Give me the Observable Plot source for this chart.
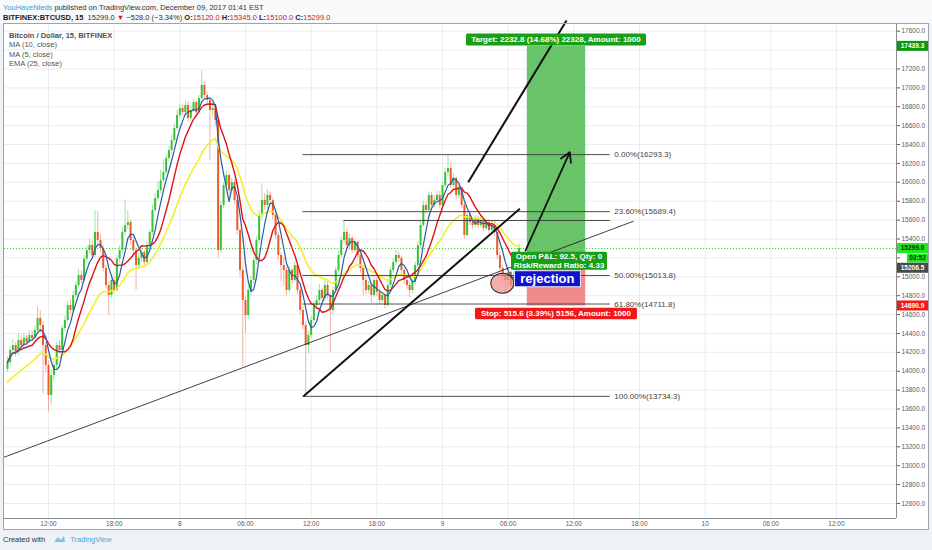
<!DOCTYPE html>
<html><head><meta charset="utf-8">
<script src="https://cdn.jsdelivr.net/npm/d3@7"></script>
<script src="https://cdn.jsdelivr.net/npm/@observablehq/plot@0.6"></script>
<style>
body{margin:0;width:932px;height:550px;position:relative;overflow:hidden;background:#eef1f5;font-family:"Liberation Sans",Arial,sans-serif;}
#hdr{position:absolute;left:0;top:0;width:932px;height:23px;background:#f8f9fa;}
.hl{position:absolute;left:3px;font-size:7.5px;line-height:9px;color:#333;white-space:nowrap;}
.r{color:#c2262b}
#frame{position:absolute;left:3px;top:23px;width:926px;height:507px;box-sizing:border-box;background:#fff;}
#border{position:absolute;left:3px;top:23px;width:926px;height:507px;box-sizing:border-box;border:1px solid #a3a3a3;pointer-events:none;}
#chart{position:absolute;left:0;top:23px;}
.lg{position:absolute;left:9px;font-size:7.5px;line-height:9px;color:#555;white-space:nowrap;}
#foot{position:absolute;left:3px;top:535px;font-size:7.5px;line-height:9px;color:#333;white-space:nowrap;}
#foot .tv{color:#4aa3df}
</style></head>
<body>
<div id="hdr">
  <div class="hl" id="h1" style="top:2.5px"></div>
  <div class="hl" id="h2" style="top:12.5px"></div>
</div>
<div id="frame"></div>
<div id="chart"></div>
<div id="legend"></div>
<div id="border"></div>
<div id="foot">Created with <svg width="13" height="8" viewBox="0 0 13 8" style="vertical-align:-1px;margin:0 2px 0 6px"><path d="M1 7 L5 2 L8 5 L11 1 L12 7 Z" fill="#7cc3ec"/></svg> <span class="tv">TradingView</span></div>
<script>
// ---------- data ----------
const startTime = "2017-12-07T08:15:00Z";   // first 15-min bar
const barMinutes = 15;
const firstOpen = 14020;
const closes = [
14092,14220,14272,14198,14325,14272,14347,14304,14378,14347,
14431,14558,14484,14272,14061,13743,13955,14061,14272,14220,
14452,14537,14696,14643,14802,14908,15014,14961,15187,15278,
15331,15225,15469,15384,15299,15088,14908,14802,14961,14855,
15187,15278,15469,15543,15575,15384,15278,15119,15194,15257,
15151,15331,15469,15702,15829,15913,16019,16104,16252,16337,
16443,16570,16708,16781,16739,16813,16676,16760,16845,16739,
16888,17025,16919,16866,16760,16781,16655,15278,15755,15966,
16072,15913,15998,15808,15490,15067,14749,14590,14855,14961,
15172,15384,15649,15808,15755,15861,15808,15649,15437,15225,
15119,15067,14855,15067,14961,15119,14855,14643,14484,14272,
14378,14537,14696,14749,14855,14770,14908,14802,14643,14855,
15067,15225,15384,15469,15331,15405,15278,15363,15225,15088,
14961,14855,14908,14802,14961,14834,14749,14802,14696,14908,
15067,15151,15225,15194,15067,14961,14908,14855,14940,15119,
15331,15543,15755,15702,15861,15755,15808,15861,15755,15966,
16104,16146,15966,16041,15861,15935,15755,15437,15649,15575,
15543,15617,15543,15596,15511,15575,15490,15543,15469,15225,
15088,15014,14961,15046,14908,15014,15120,15299];
const highs = [
14150,14260,14330,14300,14400,14380,14400,14380,14430,14420,
14480,14680,14640,14520,14300,14100,14010,14120,14300,14330,
14480,14580,14740,14760,14850,14950,15080,15060,15230,15330,
15400,15380,15700,15690,15450,15330,15120,14950,15010,15000,
15230,15330,15520,15810,15700,15600,15420,15300,15250,15300,
15280,15370,15500,15760,15880,16000,16130,16240,16300,16380,
16500,16620,16760,16830,16820,16860,16850,16800,16880,16870,
16920,17180,17060,16960,16900,16850,16820,16690,15800,16000,
16120,16100,16040,16030,15840,15520,15100,14780,14900,15000,
15210,15430,15700,15980,15880,15920,15900,15830,15680,15460,
15260,15200,15100,15110,15090,15160,15140,14890,14680,14520,
14420,14580,14740,14800,14920,14880,14960,14950,14830,14890,
15100,15270,15430,15596,15500,15450,15430,15400,15380,15260,
15120,14990,14950,14930,15000,14990,14870,14840,14820,14950,
15100,15190,15280,15260,15220,15090,15000,14950,14980,15160,
15370,15590,15800,15790,15900,15890,15860,15910,15900,16000,
16150,16293.3,16200,16090,16060,15980,15960,15780,15690,15680,
15620,15650,15640,15630,15620,15610,15600,15580,15580,15490,
15260,15120,15050,15080,15070,15050,15160,15345];
const lows = [
13990,14060,14190,14150,14170,14230,14250,14270,14290,14310,
14330,14400,14400,13760,13980,13570,13640,13900,14020,14180,
14200,14420,14510,14600,14620,14780,14880,14920,14940,15150,
15240,15180,15200,15330,15260,15050,14870,14590,14770,14820,
14840,15150,15250,15440,15500,15340,15230,14860,15080,15150,
15100,15120,15300,15440,15680,15800,15880,16000,16080,16220,
16300,16420,16540,16680,16700,16700,16640,16650,16740,16700,
16720,16870,16880,16820,16230,16700,16600,15200,15250,15720,
15920,15870,15880,15760,15440,15000,14050,14400,14550,14800,
14920,15130,15350,15600,15700,15720,15760,15600,15400,15180,
14950,14900,14800,14830,14920,14940,14810,14600,14440,13734.3,
14180,14340,14500,14650,14700,14720,14740,14760,14200,14600,
14830,15040,15200,15350,15290,15300,15240,15250,15190,15040,
14800,14810,14820,14720,14780,14790,14700,14720,14660,14680,
14880,15030,15120,15150,15020,14920,14860,14780,14820,14900,
15090,15300,15520,15660,15680,15720,15720,15780,15720,15740,
15940,16060,15930,15940,15820,15830,15720,15400,15420,15540,
15500,15520,15510,15520,15480,15490,15460,15470,15430,15180,
15040,14960,14820,14900,14860,14870,14980,15100];
const emaStart = 13870;      // EMA(25) value at the left edge

const yTicks = [12600,12800,13000,13200,13400,13600,13800,14000,14200,14400,14600,14800,15000,15200,15400,15600,15800,16000,16200,16400,16600,16800,17000,17200,17400,17600];
const hiddenTickLabels = [15200,17400];   // covered by price tags in the reference
const xTicks = ["2017-12-07T12:00Z","2017-12-07T18:00Z","2017-12-08T00:00Z","2017-12-08T06:00Z","2017-12-08T12:00Z","2017-12-08T18:00Z","2017-12-09T00:00Z","2017-12-09T06:00Z","2017-12-09T12:00Z","2017-12-09T18:00Z","2017-12-10T00:00Z","2017-12-10T06:00Z","2017-12-10T12:00Z"];

const fibPrices = [16293.3, 15689.4, 15013.8, 14711.8, 13734.3];
const fibLabels = ["0.00%(16293.3)","23.60%(15689.4)","50.00%(15013.8)","61.80%(14711.8)","100.00%(13734.3)"];
const fibStart = "2017-12-08T11:15Z", fibEnd = "2017-12-09T15:20Z";
const extraLevel = {p: 15596, t1: "2017-12-08T15:00Z", t2: "2017-12-09T15:20Z"};

const lastPrice = 15299.0;
const entry = 15206.5, target = 17439.3, stop = 14690.9;
const posStart = "2017-12-09T07:45Z", posEnd = "2017-12-09T13:05Z", posMid = "2017-12-09T10:25Z";

const trendLines = [
  {t1:"2017-12-07T07:53Z", p1:13087, t2:"2017-12-09T17:27Z", p2:15588, w:0.8},
  {t1:"2017-12-08T11:18Z", p1:13734.3, t2:"2017-12-09T07:04Z", p2:15720, w:2},
  {t1:"2017-12-09T02:21Z", p1:16001, t2:"2017-12-09T11:20Z", p2:17713, w:2}
];
const arrowLine = [{t1:"2017-12-09T07:35Z", p1:15278, t2:"2017-12-09T11:38Z", p2:16319}];
const circleMark = {t:"2017-12-09T05:31Z", p:14926};
const rejection = {t:"2017-12-09T09:38Z", p:14974, text:"rejection"};

const headerLine1 = ["YouHaveNieds", " published on TradingView.com, December 09, 2017 01:41 EST"];
const ohlc = {O:15120.0, H:15345.0, L:15100.0, C:15299.0};
const change = [-528.0, -3.34];
const legendLines = ["Bitcoin / Dollar, 15, BITFINEX","MA (10, close)","MA (5, close)","EMA (25, close)"];

// ---------- header / legend ----------
document.getElementById("h1").innerHTML = `<span style="color:#3d9be0">${headerLine1[0]}</span>${headerLine1[1]}`;
document.getElementById("h2").innerHTML =
  `<b style="color:#222">BITFINEX:BTCUSD, 15</b>&nbsp; ${lastPrice.toFixed(1)} <span class="r">&#9660;</span> \u2212${Math.abs(change[0]).toFixed(1)} (\u2212${Math.abs(change[1]).toFixed(2)}%) ` +
  Object.entries(ohlc).map(([k,v]) => `<b style="color:#222">${k}:</b><span class="r">${v.toFixed(1)}</span>`).join(" ");
const lg = document.getElementById("legend");
legendLines.forEach((s,i) => {
  const d = document.createElement("div");
  d.className = "lg"; d.textContent = s;
  d.style.top = (30.5 + i*9.5) + "px";
  if (i === 0) { d.style.fontWeight = "bold"; d.style.color = "#505050"; }
  lg.appendChild(d);
});

// ---------- build tables ----------
const t0 = new Date(startTime).getTime();
const candles = closes.map((c,i) => ({t: new Date(t0 + i*barMinutes*60000), o: i ? closes[i-1] : firstOpen, h: highs[i], l: lows[i], c}));
const alpha = 2/(25+1);
let e = emaStart;
const ema = candles.map(d => { e = alpha*d.c + (1-alpha)*e; return {t: d.t, v: e}; });
const fib = fibPrices.map((p,i) => ({p, label: fibLabels[i], t1: new Date(fibStart), t2: new Date(fibEnd)}));
const D = s => new Date(s);

const upC = "#35c335", dnC = "#ee5b2b", upW = "#8ad98a", dnW = "#ef9d93";

// custom marks (use Plot's scales)
function boxes(items){
  return (index, scales, values, dims) => {
    const g = d3.create("svg:g");
    const right = dims.width - dims.marginRight;
    for (const b of items){
      const cx = b.axis ? right + 1 + b.w/2 + (b.ox||0) : scales.x(D(b.t)) + (b.dx||0);
      const cy = scales.y(b.p) + (b.dy||0);
      g.append("rect").attr("x", cx-b.w/2).attr("y", cy-b.h/2).attr("width", b.w).attr("height", b.h)
        .attr("rx", b.rx ?? 1.5).attr("fill", b.fill).attr("stroke", b.stroke || "none").attr("stroke-width", b.sw || 0);
      const lines = b.text.split("\n");
      lines.forEach((s,k) => {
        g.append("text").attr("x", cx).attr("y", cy + (k-(lines.length-1)/2)*b.fs*1.05)
          .attr("dy","0.36em").attr("text-anchor","middle").attr("font-size", b.fs)
          .attr("font-weight", b.fw || "normal").attr("fill", b.color).text(s);
      });
    }
    return g.node();
  };
}
function ellipseMark(c){
  return (index, scales) => {
    const g = d3.create("svg:g");
    g.append("ellipse").attr("cx", scales.x(D(c.t))).attr("cy", scales.y(c.p)).attr("rx", 11.5).attr("ry", 10)
      .attr("fill", "#f08c8c").attr("fill-opacity", 0.7).attr("stroke", "#2a2a2a").attr("stroke-width", 1.1);
    return g.node();
  };
}

const fmtX = d => d.getUTCHours() === 0 ? String(d.getUTCDate()) : d3.utcFormat("%H:%M")(d);
const fmtY = d => hiddenTickLabels.includes(d) ? "" : d.toFixed(1);

const chart = Plot.plot({
  width: 932, height: 507,
  marginLeft: 4, marginRight: 36, marginTop: 0, marginBottom: 12,
  style: {background: "transparent", fontFamily: "Liberation Sans, Arial, sans-serif", overflow: "visible"},
  x: {type: "utc", domain: [D("2017-12-07T07:58:46Z"), D("2017-12-10T17:29:06Z")]},
  y: {domain: [12441, 17681.5]},
  marks: [
    Plot.ruleY(yTicks, {stroke: "#e9ecf0", strokeWidth: 1}),
    Plot.ruleX(xTicks.map(D), {stroke: "#e9ecf0", strokeWidth: 1}),
    Plot.ruleY([lastPrice], {stroke: "#3ad43a", strokeDasharray: "1.2,1.8", strokeWidth: 1}),
    // long position
    Plot.rect([{x1: D(posStart), x2: D(posEnd), y1: entry, y2: target}], {x1:"x1", x2:"x2", y1:"y1", y2:"y2", fill: "#69c369"}),
    Plot.rect([{x1: D(posStart), x2: D(posEnd), y1: stop, y2: entry}], {x1:"x1", x2:"x2", y1:"y1", y2:"y2", fill: "#f18b8b"}),
    // candles
    Plot.ruleX(candles, {x: "t", y1: "l", y2: "h", stroke: d => d.c >= d.o ? upW : dnW, strokeWidth: 0.8}),
    Plot.ruleX(candles, {x: "t", y1: "o", y2: "c", stroke: d => d.c >= d.o ? upC : dnC, strokeWidth: 2}),
    // indicators
    Plot.line(ema, {x: "t", y: "v", stroke: "#f2f02a", strokeWidth: 1.6}),
    Plot.lineY(candles, Plot.windowY({k: 10, anchor: "end"}, {x: "t", y: "c", stroke: "#e0121a", strokeWidth: 1.4})),
    Plot.lineY(candles, Plot.windowY({k: 5, anchor: "end"}, {x: "t", y: "c", stroke: "#2d5aa6", strokeWidth: 1.2})),
    // fibonacci
    Plot.ruleY(fib, {y: "p", x1: "t1", x2: "t2", stroke: "#3a3a3a", strokeWidth: 0.9}),
    Plot.ruleY([extraLevel], {y: "p", x1: d => D(d.t1), x2: d => D(d.t2), stroke: "#3a3a3a", strokeWidth: 0.9}),
    Plot.text(fib, {x: "t2", y: "p", text: "label", textAnchor: "start", dx: 4, fontSize: 8, fill: "#444"}),
    // drawings
    Plot.link(trendLines, {x1: d => D(d.t1), y1: "p1", x2: d => D(d.t2), y2: "p2", stroke: "#111", strokeWidth: d => d.w, clip: false}),
    Plot.arrow(arrowLine, {x1: d => D(d.t1), y1: "p1", x2: d => D(d.t2), y2: "p2", stroke: "#111", strokeWidth: 1.8, headLength: 9}),
    ellipseMark(circleMark),
    boxes([
      {t: posMid, p: target, dy: -6.5, w: 180, h: 12, fill: "#17a017", color: "#fff", fs: 8, fw: "bold", text: "Target: 2232.8 (14.68%) 22328, Amount: 1000"},
      {t: posMid, p: stop, dy: 8, w: 162, h: 11.5, fill: "#f01818", color: "#fff", fs: 8, fw: "bold", text: "Stop: 515.6 (3.39%) 5156, Amount: 1000"},
      {t: posMid, p: entry, dy: 4, dx: 3, w: 96, h: 18, fill: "#17a017", color: "#fff", fs: 8, fw: "bold", text: "Open P&L: 92.5, Qty: 0\nRisk/Reward Ratio: 4.33"},
      {t: rejection.t, p: rejection.p, w: 66, h: 16, rx: 0, fill: "#1212cc", stroke: "#e8e8ff", sw: 1, color: "#fff", fs: 13, fw: "bold", text: rejection.text}
    ]),
    // axes
    Plot.ruleX([D("2017-12-10T17:29:06Z")], {stroke: "#8c8c8c", strokeWidth: 1}),
    Plot.ruleY([12441], {stroke: "#8c8c8c", strokeWidth: 1}),
    Plot.axisY({anchor: "right", ticks: yTicks, tickFormat: fmtY, tickSize: 3, tickPadding: 2, fontSize: 6.5, color: "#5a5a5a", label: null}),
    Plot.axisX({ticks: xTicks.map(D), tickFormat: fmtX, tickSize: 0, tickPadding: 3, fontSize: 6.5, color: "#5a5a5a", label: null}),
    boxes([
      {axis: true, p: target, w: 31, h: 10, rx: 0, fill: "#0f970f", color: "#fff", fs: 6.5, fw: "bold", text: target.toFixed(1)},
      {axis: true, p: lastPrice, w: 31, h: 10, rx: 0, fill: "#22e622", color: "#0d2a0d", fs: 6.5, fw: "bold", text: lastPrice.toFixed(1)},
      {axis: true, p: lastPrice, dy: 10, ox: 10, w: 21, h: 9, rx: 0, fill: "#22e622", color: "#0d2a0d", fs: 6.5, fw: "bold", text: "03:52"},
      {axis: true, p: entry, dy: 11, w: 31, h: 10, rx: 0, fill: "#4b4b4b", color: "#fff", fs: 6.5, fw: "bold", text: entry.toFixed(1)},
      {axis: true, p: stop, w: 31, h: 10, rx: 0, fill: "#f01c1c", color: "#fff", fs: 6.5, fw: "bold", text: stop.toFixed(1)}
    ])
  ]
});
document.getElementById("chart").appendChild(chart);
</script>
</body></html>
